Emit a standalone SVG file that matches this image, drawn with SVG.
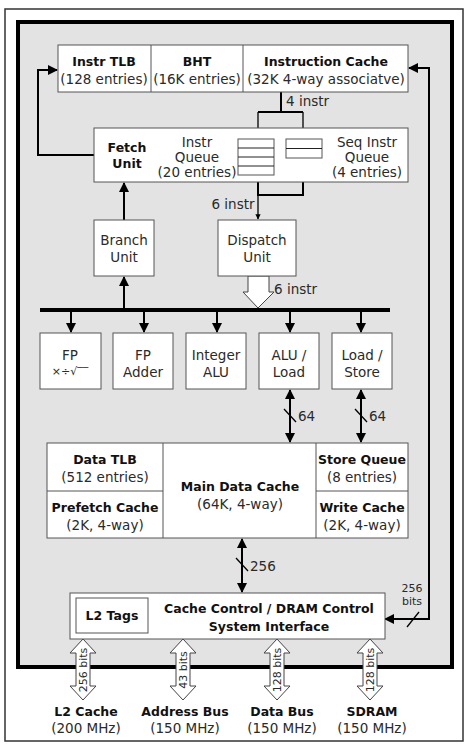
<svg xmlns="http://www.w3.org/2000/svg" width="469" height="747" viewBox="0 0 469 747">
<defs>
<style>
text{font-family:"DejaVu Sans","Liberation Sans",sans-serif;font-size:13.5px;fill:#2a2a2a;text-anchor:middle}
.b{font-weight:bold;font-size:12.5px;fill:#111}
.box{fill:#fff;stroke:#555;stroke-width:1}
.ln{fill:none;stroke:#000;stroke-width:2}
.thin{fill:none;stroke:#000;stroke-width:1.3}
.hol{fill:#fff;stroke:#444;stroke-width:1}
.s{font-size:11px}
.st{text-anchor:start}
</style>
<marker id="ah" viewBox="0 0 10 10" refX="9" refY="5" markerWidth="5" markerHeight="5" orient="auto-start-reverse"><path d="M0,0 L10,5 L0,10 z" fill="#000"/></marker>
<marker id="as" viewBox="0 0 10 10" refX="9" refY="5" markerWidth="4" markerHeight="4" orient="auto"><path d="M0,0 L10,5 L0,10 z" fill="#000"/></marker>
</defs>
<rect x="5" y="9" width="458" height="732" fill="#fff" stroke="#333" stroke-width="1.5"/>
<rect x="18" y="22" width="434" height="645" fill="#e3e3e3" stroke="#000" stroke-width="4"/>

<g id="connectors">
<polyline class="ln" points="94,155 38,155 38,70 57,70" marker-end="url(#ah)"/>
<polyline class="ln" points="385,619 429,619 429,68 409,68" marker-start="url(#ah)" marker-end="url(#ah)"/>
<line class="thin" x1="407" y1="627" x2="419" y2="612"/>
<polyline class="ln" points="281,92 281,112"/>
<polyline class="ln" points="258,112 303,112"/>
<line class="thin" x1="258" y1="112" x2="258" y2="138" marker-end="url(#as)"/>
<line class="thin" x1="303" y1="112" x2="303" y2="138" marker-end="url(#as)"/>
<polyline class="ln" points="303,158 303,195 258,195"/>
<line class="ln" x1="258" y1="175" x2="258" y2="196"/>
<line class="thin" x1="258" y1="195" x2="258" y2="219" marker-end="url(#as)"/>
<line class="ln" x1="124" y1="220" x2="124" y2="183" marker-end="url(#ah)"/>
<line class="ln" x1="124" y1="310" x2="124" y2="277" marker-end="url(#ah)"/>
<line x1="40" y1="310" x2="390" y2="310" stroke="#000" stroke-width="4"/>
<line class="ln" x1="71" y1="310" x2="71" y2="332" marker-end="url(#ah)"/>
<line class="ln" x1="144" y1="310" x2="144" y2="332" marker-end="url(#ah)"/>
<line class="ln" x1="217" y1="310" x2="217" y2="332" marker-end="url(#ah)"/>
<line class="ln" x1="290" y1="310" x2="290" y2="332" marker-end="url(#ah)"/>
<line class="ln" x1="361" y1="310" x2="361" y2="332" marker-end="url(#ah)"/>
<polygon class="hol" points="248,276 248,292 243,292 258,308 274,292 269,292 269,276"/>
<line class="ln" x1="290" y1="390" x2="290" y2="442" marker-start="url(#ah)" marker-end="url(#ah)"/>
<line class="thin" x1="284" y1="409" x2="296" y2="422"/>
<line class="ln" x1="361" y1="390" x2="361" y2="442" marker-start="url(#ah)" marker-end="url(#ah)"/>
<line class="thin" x1="355" y1="409" x2="367" y2="422"/>
<line class="ln" x1="242" y1="539" x2="242" y2="592" marker-start="url(#ah)" marker-end="url(#ah)"/>
<line class="thin" x1="236" y1="558" x2="248" y2="571"/>
<polygon class="hol" points="83,639 96,653 90,653 90,686 96,686 83,700 70,686 76,686 76,653 70,653"/>
<polygon class="hol" points="183,639 196,653 190,653 190,686 196,686 183,700 170,686 176,686 176,653 170,653"/>
<polygon class="hol" points="277,639 290,653 284,653 284,686 290,686 277,700 264,686 270,686 270,653 264,653"/>
<polygon class="hol" points="370,639 383,653 377,653 377,686 383,686 370,700 357,686 363,686 363,653 357,653"/>
</g>

<g id="labels">
<text x="286" y="106" class="st">4 instr</text>
<text x="233" y="209">6 instr</text>
<text x="274" y="294" class="st">6 instr</text>
<text x="298" y="421" class="st">64</text>
<text x="369" y="421" class="st">64</text>
<text x="250" y="571" class="st">256</text>
<text x="412" y="592" class="s">256</text>
<text x="412" y="605" class="s">bits</text>
<text class="s" transform="translate(87,670) rotate(-90)">256 bits</text>
<text class="s" transform="translate(187,670) rotate(-90)">43 bits</text>
<text class="s" transform="translate(281,670) rotate(-90)">128 bits</text>
<text class="s" transform="translate(374,670) rotate(-90)">128 bits</text>
</g>

<g id="top-row">
<rect class="box" x="58" y="45" width="350" height="47"/>
<line stroke="#555" x1="151" y1="45" x2="151" y2="92"/>
<line stroke="#555" x1="243" y1="45" x2="243" y2="92"/>
<text class="b" x="104" y="66">Instr TLB</text>
<text x="104" y="84">(128 entries)</text>
<text class="b" x="197" y="66">BHT</text>
<text x="197" y="84">(16K entries)</text>
<text class="b" x="326" y="66">Instruction Cache</text>
<text x="326" y="84">(32K 4-way associatve)</text>
</g>

<g id="fetch">
<rect class="box" x="94" y="128" width="314" height="54"/>
<text class="b" x="127" y="152">Fetch</text>
<text class="b" x="127" y="168">Unit</text>
<text x="197" y="147">Instr</text>
<text x="197" y="162">Queue</text>
<text x="197" y="177">(20 entries)</text>
<rect class="box" x="238" y="139" width="36" height="36" stroke="#222"/>
<line stroke="#222" x1="238" y1="148" x2="274" y2="148"/>
<line stroke="#222" x1="238" y1="157" x2="274" y2="157"/>
<line stroke="#222" x1="238" y1="166" x2="274" y2="166"/>
<rect class="box" x="286" y="139" width="36" height="19" stroke="#222"/>
<line stroke="#222" x1="286" y1="148.5" x2="322" y2="148.5"/>
<text x="367" y="147">Seq Instr</text>
<text x="367" y="162">Queue</text>
<text x="367" y="177">(4 entries)</text>
</g>

<g id="branch">
<rect class="box" x="94" y="220" width="60" height="56"/>
<text x="124" y="245">Branch</text>
<text x="124" y="262">Unit</text>
</g>
<g id="dispatch">
<rect class="box" x="218" y="220" width="78" height="56"/>
<text x="257" y="245">Dispatch</text>
<text x="257" y="262">Unit</text>
</g>

<g id="fp-mul">
<rect class="box" x="40" y="333" width="61" height="56"/>
<text x="70" y="360">FP</text>
<text x="70" y="375" style="font-size:11px">×÷√‾‾</text>
</g>
<g id="fp-add">
<rect class="box" x="113" y="333" width="60" height="56"/>
<text x="143" y="360">FP</text>
<text x="143" y="377">Adder</text>
</g>
<g id="int-alu">
<rect class="box" x="186" y="333" width="60" height="56"/>
<text x="216" y="360">Integer</text>
<text x="216" y="377">ALU</text>
</g>
<g id="alu-load">
<rect class="box" x="259" y="333" width="60" height="56"/>
<text x="289" y="360">ALU /</text>
<text x="289" y="377">Load</text>
</g>
<g id="load-store">
<rect class="box" x="332" y="333" width="60" height="56"/>
<text x="362" y="360">Load /</text>
<text x="362" y="377">Store</text>
</g>

<g id="data-cache">
<rect class="box" x="47" y="443" width="361" height="95"/>
<line stroke="#555" x1="163" y1="443" x2="163" y2="538"/>
<line stroke="#555" x1="316" y1="443" x2="316" y2="538"/>
<line stroke="#555" x1="47" y1="491" x2="163" y2="491"/>
<line stroke="#555" x1="316" y1="491" x2="408" y2="491"/>
<text class="b" x="105" y="464">Data TLB</text>
<text x="105" y="482">(512 entries)</text>
<text class="b" x="105" y="512">Prefetch Cache</text>
<text x="105" y="530">(2K, 4-way)</text>
<text class="b" x="240" y="491">Main Data Cache</text>
<text x="240" y="509">(64K, 4-way)</text>
<text class="b" x="362" y="464">Store Queue</text>
<text x="362" y="482">(8 entries)</text>
<text class="b" x="362" y="512">Write Cache</text>
<text x="362" y="530">(2K, 4-way)</text>
</g>

<g id="cache-control">
<rect class="box" x="70" y="593" width="315" height="46"/>
<rect class="box" x="76" y="598" width="72" height="35" stroke="#444"/>
<text class="b" x="112" y="620">L2 Tags</text>
<text class="b" x="269" y="613">Cache Control / DRAM Control</text>
<text class="b" x="269" y="631">System Interface</text>
</g>

<g id="external">
<text class="b" x="86" y="716">L2 Cache</text>
<text x="86" y="733">(200 MHz)</text>
<text class="b" x="185" y="716">Address Bus</text>
<text x="185" y="733">(150 MHz)</text>
<text class="b" x="282" y="716">Data Bus</text>
<text x="282" y="733">(150 MHz)</text>
<text class="b" x="372" y="716">SDRAM</text>
<text x="372" y="733">(150 MHz)</text>
</g>
</svg>
